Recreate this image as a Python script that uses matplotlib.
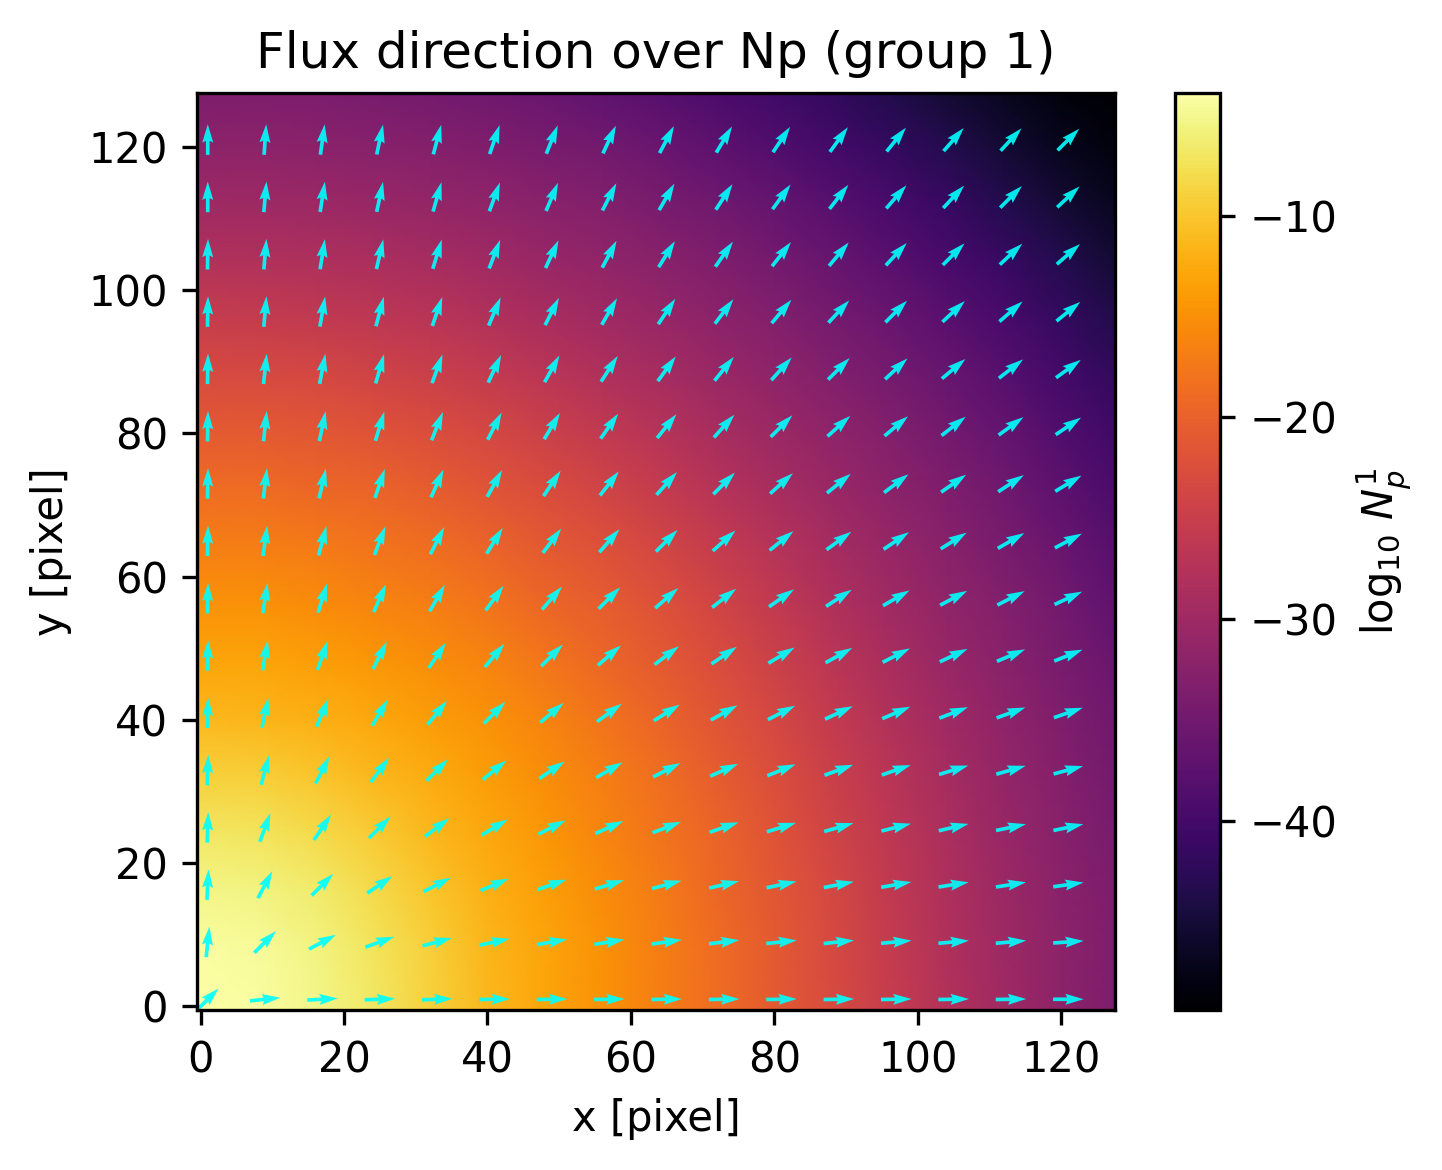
import numpy as np
import matplotlib
matplotlib.use("Agg")
import matplotlib.pyplot as plt

# Heat map values read at y rows / x columns below (log10 Np)
grid_x = [-0.5, 8, 16, 24, 32, 40, 48, 56, 64, 72, 80, 88, 96, 104, 112, 120, 127.5]
grid_y = [-0.5, 8, 16, 24, 32, 40, 48, 56, 64, 72, 80, 88, 96, 104, 112, 120, 127.5]
log_np = [
 [-3.9,-4.2,-5.2,-6.8,-8.9,-11.2,-13,-14.8,-16.7,-18.7,-20.8,-23,-25.4,-27.8,-30,-32,-33.7],
 [-4.2,-4.6,-5.6,-7.1,-9.2,-11.4,-13.1,-14.9,-16.8,-18.8,-20.9,-23.1,-25.5,-27.9,-30.1,-32.1,-33.7],
 [-5.2,-5.6,-6.5,-8.1,-10,-11.9,-13.6,-15.3,-17.2,-19.2,-21.2,-23.4,-25.8,-28.1,-30.3,-32.2,-33.9],
 [-6.8,-7.1,-8.1,-9.5,-11.2,-12.7,-14.3,-16,-17.8,-19.7,-21.8,-24,-26.3,-28.5,-30.6,-32.6,-34.2],
 [-8.9,-9.2,-10,-11.2,-12.4,-13.7,-15.2,-16.8,-18.6,-20.5,-22.5,-24.7,-27,-29.1,-31.1,-33,-34.7],
 [-11.2,-11.4,-11.9,-12.7,-13.7,-14.9,-16.3,-17.9,-19.6,-21.5,-23.4,-25.6,-27.8,-29.8,-31.7,-33.5,-35.2],
 [-13,-13.1,-13.6,-14.3,-15.2,-16.3,-17.7,-19.2,-20.8,-22.6,-24.6,-26.7,-28.7,-30.6,-32.4,-34.2,-36],
 [-14.8,-14.9,-15.3,-16,-16.8,-17.9,-19.2,-20.6,-22.2,-23.9,-25.9,-27.9,-29.8,-31.5,-33.2,-35,-37],
 [-16.7,-16.8,-17.2,-17.8,-18.6,-19.6,-20.8,-22.2,-23.7,-25.5,-27.3,-29.1,-30.8,-32.5,-34.2,-36,-38],
 [-18.7,-18.8,-19.2,-19.7,-20.5,-21.5,-22.6,-23.9,-25.5,-27.2,-28.8,-30.4,-32,-33.5,-35.2,-37.2,-39.1],
 [-20.8,-20.9,-21.2,-21.8,-22.5,-23.4,-24.6,-25.9,-27.3,-28.8,-30.3,-31.7,-33.2,-34.8,-36.5,-38.6,-40.4],
 [-23,-23.1,-23.4,-24,-24.7,-25.6,-26.7,-27.9,-29.1,-30.4,-31.7,-33.1,-34.5,-36.1,-38,-40,-41.8],
 [-25.4,-25.5,-25.8,-26.3,-27,-27.8,-28.7,-29.8,-30.8,-32,-33.2,-34.5,-35.9,-37.7,-39.6,-41.6,-43.4],
 [-27.8,-27.9,-28.1,-28.5,-29.1,-29.8,-30.6,-31.5,-32.5,-33.5,-34.8,-36.1,-37.7,-39.5,-41.3,-43.3,-45.2],
 [-30,-30.1,-30.3,-30.6,-31.1,-31.7,-32.4,-33.2,-34.2,-35.2,-36.5,-38,-39.6,-41.3,-43.2,-45.2,-46.9],
 [-32,-32.1,-32.2,-32.6,-33,-33.5,-34.2,-35,-36,-37.2,-38.6,-40,-41.6,-43.3,-45.2,-47,-48.4],
 [-33.7,-33.7,-33.9,-34.2,-34.7,-35.2,-36,-37,-38,-39.1,-40.4,-41.8,-43.4,-45.2,-46.9,-48.4,-49.4],
]

# Flux arrow positions and directions in degrees
arrow_x = [1, 9, 17, 25, 33, 41, 49, 57, 65, 73, 81, 89, 97, 105, 113, 121]
arrow_y = [1, 9, 17, 25, 33, 41, 49, 57, 65, 73, 81, 89, 97, 105, 113, 121]
flux_deg = [
 [45, 6, 3, 2, 2, 1, 1, 1, 1, 1, 1, 1, 1, 1, 1, 0],
 [84, 45, 28, 20, 15, 12, 10, 9, 8, 7, 6, 6, 5, 5, 5, 4],
 [87, 62, 45, 34, 27, 23, 19, 17, 15, 13, 12, 11, 10, 9, 9, 8],
 [88, 70, 56, 45, 37, 31, 27, 24, 21, 19, 17, 16, 14, 13, 12, 12],
 [88, 75, 63, 53, 45, 39, 34, 30, 27, 24, 22, 20, 19, 17, 16, 15],
 [89, 78, 67, 59, 51, 45, 40, 36, 32, 29, 27, 25, 23, 21, 20, 19],
 [89, 80, 71, 63, 56, 50, 45, 41, 37, 34, 31, 29, 27, 25, 23, 22],
 [89, 81, 73, 66, 60, 54, 49, 45, 41, 38, 35, 33, 30, 28, 27, 25],
 [89, 82, 75, 69, 63, 58, 53, 49, 45, 42, 39, 36, 34, 32, 30, 28],
 [89, 83, 77, 71, 66, 61, 56, 52, 48, 45, 42, 39, 37, 35, 33, 31],
 [89, 84, 78, 73, 68, 63, 59, 55, 51, 48, 45, 42, 40, 38, 36, 34],
 [89, 84, 79, 74, 70, 65, 61, 57, 54, 51, 48, 45, 43, 40, 38, 36],
 [89, 85, 80, 75, 71, 67, 63, 60, 56, 53, 50, 47, 45, 43, 41, 39],
 [89, 85, 81, 77, 73, 69, 65, 62, 58, 55, 52, 50, 47, 45, 43, 41],
 [90, 85, 81, 78, 74, 70, 67, 63, 60, 57, 54, 52, 49, 47, 45, 43],
 [90, 86, 82, 78, 75, 71, 68, 65, 62, 59, 56, 54, 51, 49, 47, 45],
]
x_ticks = [0, 20, 40, 60, 80, 100, 120]
y_ticks = [0, 20, 40, 60, 80, 100, 120]
cbar_ticks = [-10, -20, -30, -40]

W, H = 1442, 1170
fig = plt.figure(figsize=(W / 300, H / 300), dpi=300)
ax = fig.add_axes([197 / W, 1 - 1010 / H, 918 / W, 917 / H])
cax = fig.add_axes([1174.5 / W, 1 - 1010 / H, 45.5 / W, 917 / H])

mesh = ax.pcolormesh(grid_x, grid_y, np.array(log_np), cmap="inferno",
                     shading="gouraud", vmin=-49.4, vmax=-3.9, rasterized=True)
ax.set_xlim(-0.5, 127.5)
ax.set_ylim(-0.5, 127.5)

deg = np.radians(np.array(flux_deg, dtype=float))
ax.quiver(arrow_x, arrow_y, np.cos(deg), np.sin(deg), color="cyan", alpha=0.9,
          pivot="mid", angles="xy", scale=30, width=0.004)

ax.set_xticks(x_ticks)
ax.set_yticks(y_ticks)
ax.set_xlabel("x [pixel]")
ax.set_ylabel("y [pixel]")
ax.set_title("Flux direction over Np (group 1)")

cb = fig.colorbar(mesh, cax=cax)
cb.set_ticks(cbar_ticks)
cb.set_label(r"$\log_{10}\,N_p^{1}$")

fig.savefig("out.png", dpi=300)
